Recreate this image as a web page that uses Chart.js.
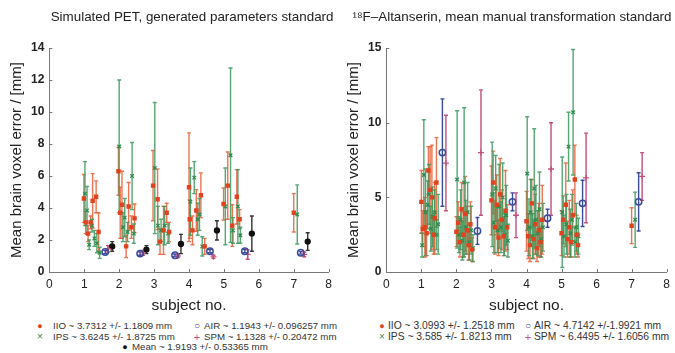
<!DOCTYPE html>
<html>
<head>
<meta charset="utf-8">
<script src="https://cdn.jsdelivr.net/npm/chart.js@4.4.1/dist/chart.umd.min.js"></script>
<style>
  body { margin: 0; background: #fff; width: 675px; height: 353px; overflow: hidden; position: relative;
         font-family: "Liberation Sans", Arial, sans-serif; }
  .panel { position: absolute; top: 0; }
  .lg { position: absolute; color: #333; white-space: nowrap; line-height: 1; }
  .mk { position: absolute; line-height: 1; font-size: 9px; transform: translate(-50%, -50%); }
</style>
</head>
<body>
<canvas id="petChart" class="panel" width="337" height="315" style="left:0"></canvas>
<canvas id="altChart" class="panel" width="338" height="315" style="left:337px"></canvas>

<!-- legends -->
<span class="mk" style="left:40px;top:326px;color:#e0431e">●</span>
<span class="lg" style="left:53px;top:321px;font-size:9.7px">IIO ~ 3.7312 +/- 1.1809 mm</span>
<span class="mk" style="left:197px;top:326px;color:#3b4b9c;font-size:10px">○</span>
<span class="lg" style="left:204px;top:321px;font-size:9.7px">AIR ~ 1.1943 +/- 0.096257 mm</span>
<span class="mk" style="left:40px;top:337px;color:#2e8b4e;font-size:10px">×</span>
<span class="lg" style="left:53px;top:332px;font-size:9.7px">IPS ~ 3.6245 +/- 1.8725 mm</span>
<span class="mk" style="left:197px;top:337px;color:#c2507e;font-size:11px">+</span>
<span class="lg" style="left:204px;top:332px;font-size:9.7px">SPM ~ 1.1328 +/- 0.20472 mm</span>
<span class="mk" style="left:125px;top:347px;color:#111">●</span>
<span class="lg" style="left:132px;top:342px;font-size:9.7px">Mean ~ 1.9193 +/- 0.53365 mm</span>

<span class="mk" style="left:382px;top:326px;color:#e0431e">●</span>
<span class="lg" style="left:388px;top:321px;font-size:10.3px">IIO ~ 3.0993 +/- 1.2518 mm</span>
<span class="mk" style="left:528px;top:326px;color:#3b4b9c;font-size:10px">○</span>
<span class="lg" style="left:534px;top:321px;font-size:10.3px">AIR ~ 4.7142 +/-1.9921 mm</span>
<span class="mk" style="left:382px;top:337px;color:#2e8b4e;font-size:10px">×</span>
<span class="lg" style="left:388px;top:332px;font-size:10.3px">IPS ~ 3.585 +/- 1.8213 mm</span>
<span class="mk" style="left:528px;top:337px;color:#c2507e;font-size:11px">+</span>
<span class="lg" style="left:534px;top:332px;font-size:10.3px">SPM ~ 6.4495 +/- 1.6056 mm</span>

<script>
// ---- Simulated PET, generated parameters standard ----
const petIioX   = [0.99, 1.04, 1.11, 1.18, 1.24, 1.34, 1.41, 1.98, 2.03, 2.08, 2.2, 2.27, 2.35, 2.44, 2.97, 3.1, 3.17, 3.27, 3.36, 3.43, 4.0, 4.02, 4.1, 4.21, 4.34, 4.45, 4.99, 5.11, 5.24, 5.37, 5.45, 7.0];
const petIioY   = [4.6, 3.1, 2.4, 3.1, 4.45, 4.7, 2.5, 6.3, 3.7, 4.2, 1.6, 4.1, 2.8, 3.35, 5.4, 4.55, 1.9, 2.6, 3.7, 2.5, 5.3, 3.3, 2.6, 3.85, 4.8, 1.6, 4.25, 5.4, 2.9, 4.7, 3.3, 3.7];
const petIioErr = [1.5, 0.7, 0.5, 0.4, 1.7, 1.0, 1.2, 1.5, 1.6, 2.1, 0.7, 1.5, 0.7, 0.9, 2.2, 1.9, 0.8, 1.5, 0.6, 0.6, 3.4, 1.2, 0.9, 1.3, 1.4, 0.5, 1.0, 2.1, 1.3, 1.7, 0.6, 1.2];

const petIpsX   = [1.02, 1.08, 1.14, 1.22, 1.29, 1.36, 1.44, 2.0, 2.11, 2.16, 2.24, 2.37, 2.42, 3.02, 3.11, 3.2, 3.3, 3.4, 4.04, 4.15, 4.25, 4.3, 4.38, 5.04, 5.19, 5.26, 5.4, 5.47, 7.1];
const petIpsY   = [4.9, 3.85, 1.7, 2.9, 2.1, 1.8, 1.2, 7.85, 2.8, 3.4, 2.5, 6.0, 2.4, 6.5, 2.9, 2.6, 2.9, 2.4, 4.4, 5.9, 3.3, 3.6, 1.6, 4.1, 7.3, 2.6, 4.1, 2.3, 3.6];
const petIpsErr = [2.0, 1.5, 0.3, 0.4, 0.5, 0.6, 0.35, 4.15, 0.9, 1.2, 0.6, 2.1, 0.6, 4.1, 1.2, 0.7, 1.2, 0.6, 2.1, 1.0, 1.0, 1.0, 0.6, 2.4, 5.45, 0.8, 2.3, 0.5, 1.85];

const petAirX   = [1.6, 2.6, 3.6, 4.6, 5.6, 7.2];
const petAirY   = [1.25, 1.15, 1.05, 1.3, 1.3, 1.2];
const petAirErr = [0.1, 0.1, 0.08, 0.1, 0.1, 0.08];

const petSpmX   = [1.68, 2.68, 3.68, 4.7, 5.68, 7.3];
const petSpmY   = [1.45, 1.2, 1.0, 0.95, 1.1, 1.1];
const petSpmErr = [0.2, 0.15, 0.1, 0.1, 0.3, 0.15];

const petMeanX   = [1.8, 2.78, 3.77, 4.8, 5.8, 7.4];
const petMeanY   = [1.6, 1.4, 1.75, 2.6, 2.4, 1.9];
const petMeanErr = [0.3, 0.25, 0.6, 0.6, 1.1, 0.55];

// ---- 18F-Altanserin, mean manual transformation standard ----
const altIioX   = [1.0, 1.04, 1.1, 1.15, 1.2, 1.25, 1.3, 1.35, 1.38, 1.43, 2.0, 2.05, 2.1, 2.15, 2.2, 2.25, 2.3, 2.35, 2.4, 2.45, 3.0, 3.05, 3.1, 3.15, 3.2, 3.25, 3.3, 3.35, 3.4, 3.45, 4.0, 4.05, 4.1, 4.15, 4.2, 4.25, 4.3, 4.35, 4.4, 4.45, 5.0, 5.05, 5.12, 5.17, 5.22, 5.27, 5.32, 5.38, 5.43, 5.47, 7.0];
const altIioY   = [4.7, 2.9, 3.0, 2.6, 6.8, 5.5, 5.0, 2.5, 3.6, 6.0, 2.7, 3.3, 2.0, 4.2, 2.5, 3.9, 2.8, 1.8, 3.2, 1.5, 4.8, 6.0, 3.0, 4.5, 2.3, 5.2, 3.5, 2.4, 4.1, 3.0, 3.4, 2.4, 1.8, 4.6, 2.2, 3.2, 1.6, 2.8, 2.0, 3.5, 2.6, 3.5, 4.5, 2.2, 3.0, 2.0, 3.8, 6.2, 2.5, 1.8, 3.1];
const altIioErr = [2.1, 1.2, 2.0, 1.5, 1.6, 2.9, 3.5, 1.3, 2.4, 3.0, 1.0, 1.4, 1.0, 1.8, 1.5, 2.5, 1.6, 1.0, 1.5, 0.8, 2.3, 2.1, 1.8, 2.0, 1.2, 2.4, 2.0, 1.3, 2.7, 1.5, 2.0, 1.5, 1.1, 1.6, 1.3, 2.0, 0.9, 1.8, 1.0, 2.3, 1.5, 1.6, 2.8, 1.2, 1.8, 1.0, 1.7, 2.3, 1.3, 0.8, 1.2];

const altIpsX   = [1.02, 1.07, 1.12, 1.18, 1.22, 1.27, 1.32, 1.38, 1.43, 1.48, 2.02, 2.07, 2.12, 2.17, 2.22, 2.27, 2.32, 2.37, 2.42, 2.47, 3.02, 3.07, 3.12, 3.17, 3.22, 3.27, 3.32, 3.37, 3.42, 3.47, 4.02, 4.07, 4.12, 4.17, 4.22, 4.27, 4.32, 4.37, 4.42, 4.47, 5.02, 5.07, 5.14, 5.2, 5.25, 5.3, 5.33, 5.38, 5.42, 5.48, 7.1];
const altIpsY   = [1.8, 6.5, 4.0, 4.5, 5.2, 2.9, 3.7, 4.0, 2.5, 3.2, 6.2, 2.5, 3.5, 2.1, 6.0, 3.0, 4.0, 2.0, 2.8, 1.6, 5.2, 3.3, 5.6, 2.8, 4.4, 3.0, 5.0, 2.5, 3.8, 2.1, 6.6, 3.0, 4.0, 2.4, 5.6, 3.5, 2.6, 4.2, 2.2, 3.0, 4.0, 2.4, 3.2, 8.4, 2.6, 3.5, 10.7, 2.0, 3.0, 2.4, 3.5];
const altIpsErr = [0.8, 3.7, 2.9, 1.6, 2.0, 1.5, 2.0, 1.5, 1.0, 2.0, 4.6, 1.2, 2.0, 1.3, 5.0, 1.8, 2.0, 1.2, 1.6, 0.9, 3.5, 2.0, 2.2, 1.5, 2.8, 1.7, 2.3, 1.4, 2.0, 1.1, 3.8, 1.9, 2.2, 1.5, 4.0, 2.3, 1.5, 2.5, 1.2, 1.6, 3.7, 1.4, 2.0, 2.3, 1.6, 1.7, 4.2, 1.0, 1.6, 1.2, 1.85];

const altAirX   = [1.6, 2.6, 3.6, 4.6, 5.6, 7.2];
const altAirY   = [8.0, 2.75, 4.7, 3.6, 4.6, 4.7];
const altAirErr = [3.6, 0.9, 0.6, 0.6, 1.55, 1.95];

const altSpmX   = [1.7, 2.7, 3.7, 4.7, 5.7, 7.3];
const altSpmY   = [7.3, 8.0, 3.8, 6.9, 6.3, 6.4];
const altSpmErr = [3.2, 4.2, 1.5, 3.1, 3.0, 1.6];

const xTicks = [0, 1, 2, 3, 4, 5, 6, 7, 8];

const RED = '#e0431e', GREEN = '#2e8b4e', BLUE = '#3b4b9c', PINK = '#c2507e', BLACK = '#111';

function pts(xs, ys) {
  return xs.map((x, i) => ({ x: x, y: ys[i] }));
}

// vertical error bars drawn through the chart's scales
const errorBars = {
  id: 'errorBars',
  beforeDatasetsDraw(chart) {
    const { ctx, scales: { x, y } } = chart;
    chart.data.datasets.forEach(ds => {
      if (!ds.errors) return;
      ctx.save();
      ctx.strokeStyle = ds.barColor;
      ctx.lineWidth = 1.4;
      ds.data.forEach((p, j) => {
        const px = x.getPixelForValue(p.x);
        const top = y.getPixelForValue(p.y + ds.errors[j]);
        const bot = y.getPixelForValue(p.y - ds.errors[j]);
        ctx.beginPath();
        ctx.moveTo(px, top); ctx.lineTo(px, bot);
        ctx.moveTo(px - 2, top); ctx.lineTo(px + 2, top);
        ctx.moveTo(px - 2, bot); ctx.lineTo(px + 2, bot);
        ctx.stroke();
      });
      ctx.restore();
    });
  }
};

// matlab style ticks pointing into the plot
const innerTicks = {
  id: 'innerTicks',
  afterDraw(chart) {
    const { ctx, scales: { x, y } } = chart;
    ctx.save();
    ctx.strokeStyle = '#777';
    ctx.lineWidth = 1;
    ctx.beginPath();
    x.ticks.forEach((t, i) => {
      const px = Math.round(x.getPixelForTick(i)) + 0.5;
      ctx.moveTo(px, y.bottom); ctx.lineTo(px, y.bottom - 3);
    });
    y.ticks.forEach((t, i) => {
      const py = Math.round(y.getPixelForTick(i)) + 0.5;
      ctx.moveTo(x.left, py); ctx.lineTo(x.left + 3, py);
    });
    ctx.stroke();
    ctx.restore();
  }
};

function series(label, xs, ys, errs, color, barColor, style, radius, fill) {
  return {
    label: label,
    data: pts(xs, ys),
    errors: errs,
    barColor: barColor,
    pointStyle: style,
    pointRadius: radius,
    borderColor: color,
    backgroundColor: fill ? color : 'rgba(0,0,0,0)',
    pointBorderWidth: style === 'circle' && !fill ? 1.5 : 1.3,
    showLine: false
  };
}

function makeOptions(titleText, yMax, yStep) {
  return {
    responsive: false,
    animation: false,
    devicePixelRatio: 1,
    layout: { padding: { left: 3, right: 3.5, top: 0, bottom: 0 } },
    plugins: {
      legend: { display: false },
      tooltip: { enabled: false },
      title: {
        display: true,
        text: titleText,
        align: 'end',
        color: '#222',
        font: { family: 'Liberation Sans', size: 13.4, weight: 'normal' },
        padding: { top: 9, bottom: 23 }
      }
    },
    scales: {
      x: {
        type: 'linear',
        min: 0, max: 8,
        afterBuildTicks: s => { s.ticks = xTicks.map(v => ({ value: v })); },
        grid: { drawOnChartArea: false, drawTicks: false },
        border: { display: true, color: '#777' },
        ticks: { color: '#222', padding: 5, font: { family: 'Liberation Sans', size: 12 } },
        title: { display: true, text: 'subject no.', color: '#222', padding: { top: 0, bottom: 0 },
                 font: { family: 'Liberation Sans', size: 15.5 } }
      },
      y: {
        min: 0, max: yMax,
        grid: { drawOnChartArea: false, drawTicks: false },
        border: { display: true, color: '#777' },
        ticks: { stepSize: yStep, color: '#222', padding: 5, font: { family: 'Liberation Sans', size: 12, weight: 'bold' } },
        title: { display: true, text: 'Mean brain voxel error / [mm]', color: '#222', padding: { top: 5, bottom: 0 },
                 font: { family: 'Liberation Sans', size: 15 } }
      }
    }
  };
}

new Chart(document.getElementById('petChart').getContext('2d'), {
  type: 'scatter',
  data: {
    datasets: [
      series('IIO', petIioX, petIioY, petIioErr, RED, 'rgba(232,92,52,0.85)', 'rect', 2.2, true),
      series('IPS', petIpsX, petIpsY, petIpsErr, GREEN, 'rgba(56,150,90,0.85)', 'crossRot', 2.5, false),
      series('AIR', petAirX, petAirY, petAirErr, BLUE, BLUE, 'circle', 3.2, false),
      series('SPM', petSpmX, petSpmY, petSpmErr, PINK, PINK, 'cross', 3, false),
      series('Mean', petMeanX, petMeanY, petMeanErr, BLACK, '#333', 'circle', 2.5, true)
    ]
  },
  options: makeOptions('Simulated PET, generated parameters standard', 14, 2),
  plugins: [errorBars, innerTicks]
});

new Chart(document.getElementById('altChart').getContext('2d'), {
  type: 'scatter',
  data: {
    datasets: [
      series('IIO', altIioX, altIioY, altIioErr, RED, 'rgba(232,92,52,0.85)', 'rect', 2.2, true),
      series('IPS', altIpsX, altIpsY, altIpsErr, GREEN, 'rgba(56,150,90,0.85)', 'crossRot', 2.5, false),
      series('AIR', altAirX, altAirY, altAirErr, BLUE, BLUE, 'circle', 3.2, false),
      series('SPM', altSpmX, altSpmY, altSpmErr, PINK, PINK, 'cross', 3, false)
    ]
  },
  options: makeOptions('\u00B9\u2078F\u2013Altanserin, mean manual transformation standard', 15, 5),
  plugins: [errorBars, innerTicks]
});
</script>
</body>
</html>
